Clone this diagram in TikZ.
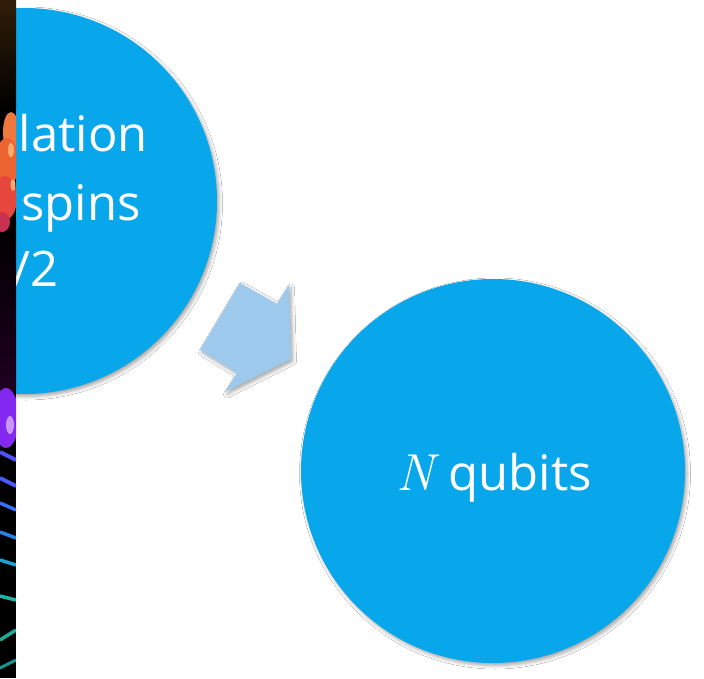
\documentclass[tikz,border=0pt]{standalone}
\usepackage{fontspec}
\newfontfamily\uifont{Open Sans}
\usetikzlibrary{shadows.blur}
\definecolor{discblue}{RGB}{8,166,235}
\definecolor{arrowblue}{RGB}{157,201,236}
% colours of the photo strip
\definecolor{stripbrown}{RGB}{48,30,8}
\definecolor{stripplum}{RGB}{30,0,30}
\definecolor{coralA}{RGB}{240,120,60}
\definecolor{coralB}{RGB}{236,100,50}
\definecolor{coralC}{RGB}{230,70,60}
\definecolor{coralD}{RGB}{200,50,80}
\definecolor{coralE}{RGB}{255,170,110}
\definecolor{violetA}{RGB}{130,40,240}
\definecolor{violetB}{RGB}{200,150,255}
\definecolor{strandA}{RGB}{80,80,255}
\definecolor{strandB}{RGB}{70,90,255}
\definecolor{strandC}{RGB}{60,110,250}
\definecolor{strandD}{RGB}{40,130,230}
\definecolor{strandE}{RGB}{30,160,210}
\definecolor{strandF}{RGB}{30,180,160}
\definecolor{strandG}{RGB}{30,170,150}
\definecolor{strandH}{RGB}{20,150,140}
\begin{document}
\begin{tikzpicture}[x=1pt,y=-1pt,
  softshadow/.style={blur shadow={shadow xshift=2pt, shadow yshift=-2.5pt,
      shadow blur radius=3.5pt, shadow opacity=35}},
  disc/.style={circle, fill=discblue, minimum size=#1, inner sep=0pt, softshadow},
  disctext/.style={text=white, inner sep=0pt,
      font=\uifont\fontsize{49}{58}\selectfont},
]
\useasboundingbox (0,0) rectangle (704,678);
\fill[white] (0,0) rectangle (704,678);

% source disc (partly hidden behind the photo strip)
\node[disc=386pt] (src) at (24,201) {};
\node[disctext, anchor=base east] (srcA) at (148,151) {lation};
\node[disctext, anchor=base east] (srcB) at (141,220) {spins};
\node[disctext, anchor=base east] (srcC) at (59,286) {/2};

% target disc
\node[disc=384pt] (dst) at (493,471) {};
\node[disctext, anchor=base] (dstA) at (494,490)
  {{\rmfamily\itshape\fontsize{52}{60}\selectfont N}\hspace{2pt} qubits};

% block arrow between the discs
\fill[arrowblue, softshadow]
  (240,283) -- (277,304) -- (289,285) -- (291,359) -- (225,392)
  -- (237,373) -- (200,350) -- cycle;

% photo strip on the left edge
\begin{scope}
  \clip (0,0) rectangle (16,678);
  \shade[top color=stripbrown, bottom color=black] (0,0) rectangle (16,110);
  \fill[black] (0,110) rectangle (16,678);
  \shade[top color=black, bottom color=stripplum] (0,220) rectangle (16,390);
  % coral-like orange/red blob
  \fill[coralA] (11,132) ellipse [x radius=8, y radius=20];
  \fill[coralB] (7,162) ellipse [x radius=12, y radius=24];
  \fill[coralC] (5,198) ellipse [x radius=12, y radius=22];
  \fill[coralD] (2,222) ellipse [x radius=8, y radius=10];
  \fill[coralE] (11,150) ellipse [x radius=3, y radius=7];
  \fill[coralE] (13,185) ellipse [x radius=2.5, y radius=6];
  % violet blob
  \fill[violetA] (6,418) ellipse [x radius=13, y radius=30];
  \fill[violetB] (10,425) ellipse [x radius=4, y radius=9];
  % glowing strands
  \draw[strandA, line width=4pt] (0,452) -- (16,460);
  \draw[strandB, line width=4pt] (0,478) -- (16,486);
  \draw[strandC, line width=3.5pt] (0,503) -- (16,510);
  \draw[strandD, line width=3.5pt] (0,532) -- (16,538);
  \draw[strandE, line width=3.5pt] (0,560) -- (16,565);
  \draw[strandF, line width=3.5pt] (0,596) -- (16,600);
  \draw[strandG, line width=3.5pt] (0,640) -- (16,630);
  \draw[strandH, line width=3pt] (0,668) -- (16,660);
\end{scope}
\end{tikzpicture}
\end{document}
